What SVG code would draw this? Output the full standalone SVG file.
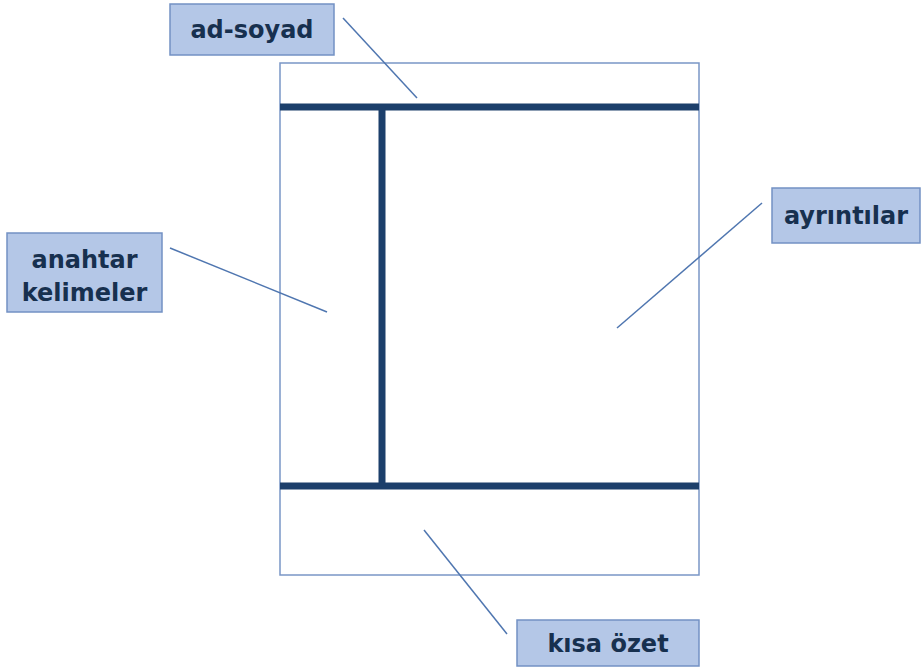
<svg xmlns="http://www.w3.org/2000/svg" width="922" height="669" viewBox="0 0 922 669">
<style>
.lbl{fill:#b4c7e7;stroke:#7391c4;stroke-width:1.5}
.t{font-family:"Comic Sans MS","DejaVu Sans",sans-serif;font-weight:bold;font-size:24px;fill:#17304f;text-anchor:middle}
.thin{stroke:#4f76b0;stroke-width:1.5;fill:none}
.thick{stroke:#1c3f6b;stroke-width:7;fill:none}
</style>
<rect width="922" height="669" fill="#fff"/>
<g id="page">
<rect x="280" y="63" width="419" height="512" fill="#fff" stroke="#7a96c6" stroke-width="1.5"/>
<line class="thick" x1="280" y1="107" x2="699" y2="107"/>
<line class="thick" x1="280" y1="486" x2="699" y2="486"/>
<line class="thick" x1="382" y1="107" x2="382" y2="486"/>
</g>
<g id="connectors">
<line class="thin" x1="343" y1="18" x2="417" y2="98"/>
<line class="thin" x1="170" y1="248" x2="327" y2="312"/>
<line class="thin" x1="762" y1="203" x2="617" y2="328"/>
<line class="thin" x1="424" y1="530" x2="507" y2="634"/>
</g>
<g id="ad-soyad">
<rect class="lbl" x="170" y="4" width="164" height="51"/>
<text class="t" x="252" y="38">ad-soyad</text>
</g>
<g id="anahtar">
<rect class="lbl" x="7" y="233" width="155" height="79"/>
<text class="t" x="84.5" y="268">anahtar</text>
<text class="t" x="84.5" y="301">kelimeler</text>
</g>
<g id="ayrintilar">
<rect class="lbl" x="772" y="188" width="148" height="55"/>
<text class="t" x="846" y="224">ayrıntılar</text>
</g>
<g id="kisa">
<rect class="lbl" x="517" y="620" width="182" height="46"/>
<text class="t" x="608" y="652">kısa özet</text>
</g>
</svg>
